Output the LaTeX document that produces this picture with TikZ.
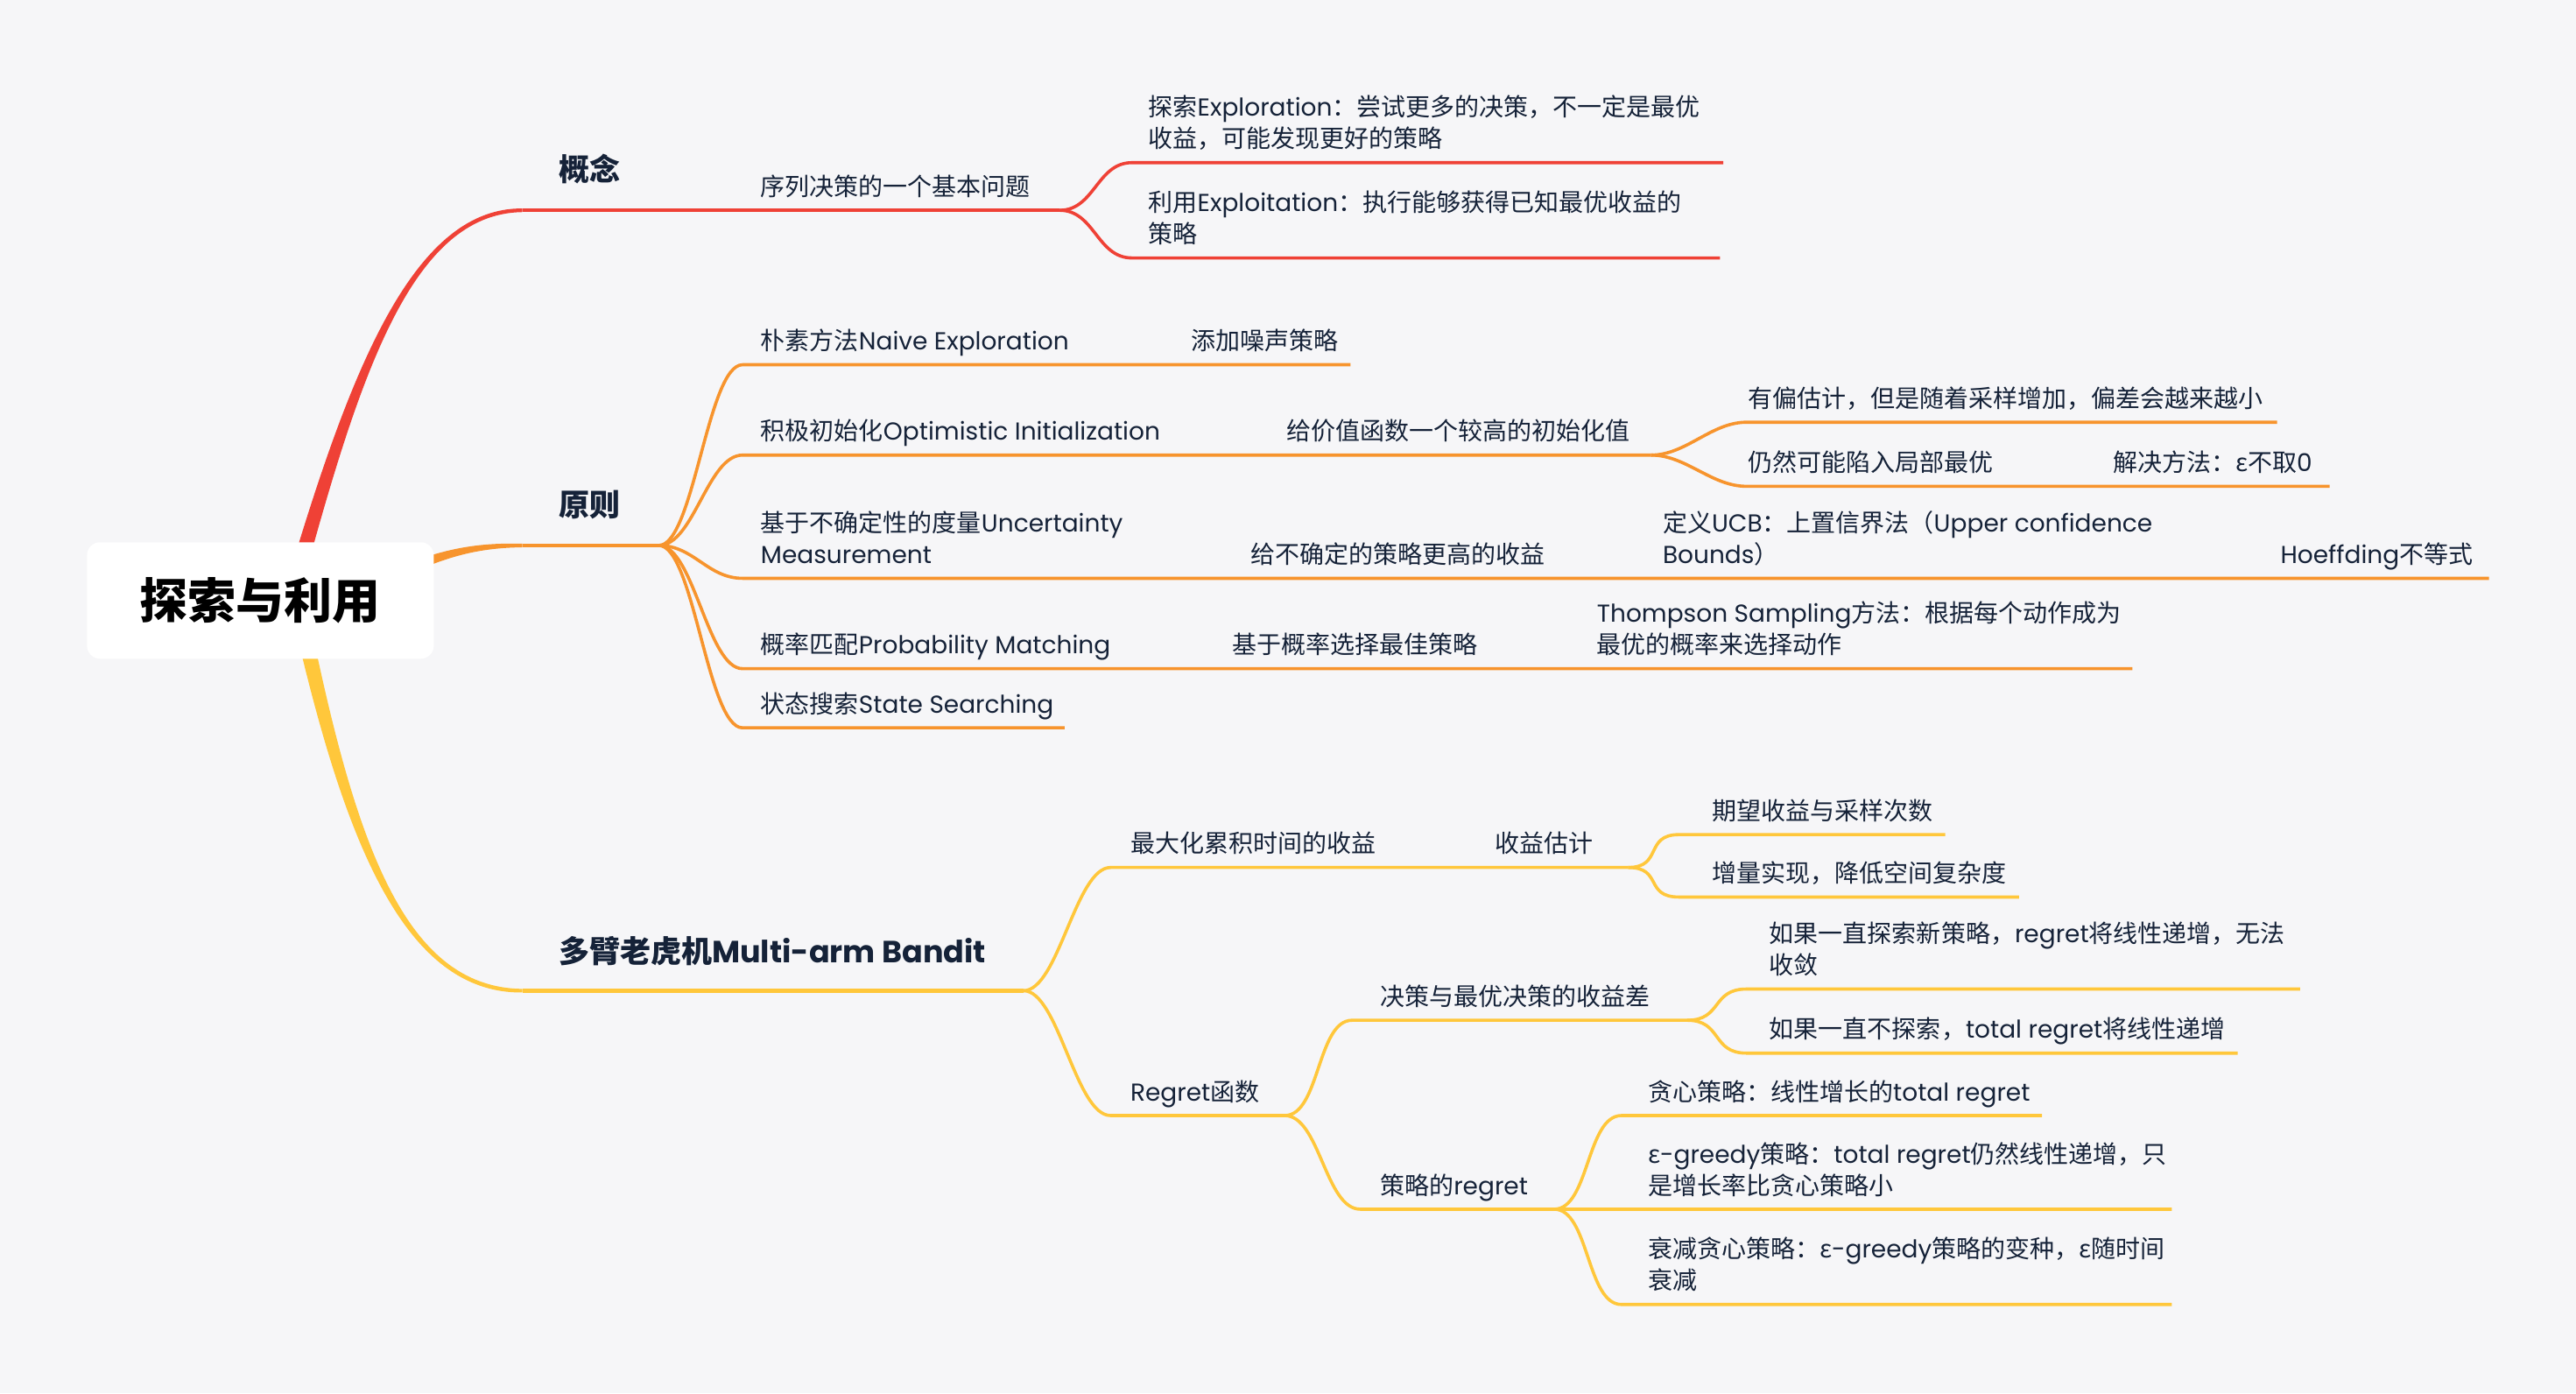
\documentclass[tikz,border=0pt]{standalone}
\usepackage{fontspec}
\setmainfont{Poppins}
\newfontfamily\cjk{Noto Sans CJK SC}
\usetikzlibrary{calc}

% Chinese characters switch to the CJK font by themselves
\XeTeXinterchartokenstate=1
\newXeTeXintercharclass\hanzi
\newcount\hzc
\def\hzrange#1#2{\hzc=#1 \loop\XeTeXcharclass\hzc=\hanzi\advance\hzc by 1 \ifnum\hzc<#2 \repeat}
\hzrange{"3000}{"3040}
\hzrange{"4E00}{"A000}
\hzrange{"FF00}{"FFF0}
\XeTeXcharclass"03B5=\hanzi
\XeTeXinterchartoks 0 \hanzi = {\begingroup\cjk}
\XeTeXinterchartoks 4095 \hanzi = {\begingroup\cjk}
\XeTeXinterchartoks \hanzi 0 = {\endgroup}
\XeTeXinterchartoks \hanzi 4095 = {\endgroup}

\definecolor{ink}{HTML}{152238}
\definecolor{paper}{HTML}{F6F6F8}
\definecolor{redb}{HTML}{EF4136}
\definecolor{orab}{HTML}{F7942D}
\definecolor{yelb}{HTML}{FFC73B}

\begin{document}
\begin{tikzpicture}[x=1.876pt,y=-1.876pt,
    txt/.style={anchor=base west,inner sep=0pt,align=left,text=ink,font=\fontsize{28}{36}\selectfont},
    head/.style={anchor=base west,inner sep=0pt,text=ink,font=\bfseries\fontsize{35}{42}\selectfont},
    main/.style={line width=4.2pt},
    sub/.style={line width=3.6pt},
    fork/.style={out=0,in=180,out distance=40pt,in distance=40pt}]
  \fill[paper] (0,0) rectangle (1568,848);
  \useasboundingbox (0,0) rectangle (1568,848);

  % end points of the three main branches
  \coordinate (gn-s) at (318,128);
  \coordinate (yz-s) at (318,332);
  \coordinate (mb-s) at (318,603);

  % tapered main branches
  \fill[redb] (173,360) .. controls (211.6,230) and (250,126.2) .. ($(gn-s)+(0,-1.1)$)
     -- ($(gn-s)+(0,1.1)$) .. controls (250,129.8) and (218.4,230) .. (183,360) -- cycle;
  \fill[orab] (235,348) .. controls (270,333.4) and (290,330.4) .. ($(yz-s)+(0,-1.1)$)
     -- ($(yz-s)+(0,1.1)$) .. controls (290,333.6) and (270,338.6) .. (235,356) -- cycle;
  \fill[yelb] (177,370) .. controls (208.6,510) and (245,604.8) .. ($(mb-s)+(0,1.1)$)
     -- ($(mb-s)+(0,-1.1)$) .. controls (245,601.2) and (215.4,510) .. (187,370) -- cycle;

  \node[fill=white,rounded corners=15pt,minimum width=396pt,minimum height=133pt,
        text=black,font=\bfseries\fontsize{55}{60}\selectfont] (root) at (158.5,365.5) {探索与利用};

  % 概念
  \coordinate (yl-e) at (645,128);
  \coordinate (ts-s) at (689,99);  \coordinate (ts-e) at (1049,99);
  \coordinate (ly-s) at (689,157); \coordinate (ly-e) at (1047,157);
  \draw[redb,main] (gn-s) -- (yl-e);
  \draw[redb,sub] (yl-e) to[fork] (ts-s) -- (ts-e);
  \draw[redb,sub] (yl-e) to[fork] (ly-s) -- (ly-e);
  \node[head] (gn) at (340,110) {概念};
  \node[txt] (yl) at (463,119) {序列决策的一个基本问题};
  \node[txt] (ts) at (699,90) {探索Exploration：尝试更多的决策，不一定是最优\\收益，可能发现更好的策略};
  \node[txt] (ly) at (699,148) {利用Exploitation：执行能够获得已知最优收益的\\策略};

  % 原则
  \coordinate (yz-e) at (401,332);
  \coordinate (nv-s) at (452,222); \coordinate (nv-e) at (822,222);
  \coordinate (op-s) at (452,277); \coordinate (op-e) at (1005,277);
  \coordinate (ob-s) at (1063,257); \coordinate (ob-e) at (1386,257);
  \coordinate (oc-s) at (1063,296); \coordinate (oc-e) at (1418,296);
  \coordinate (un-s) at (452,352); \coordinate (un-e) at (1515,352);
  \coordinate (pm-s) at (452,407); \coordinate (pm-e) at (1298,407);
  \coordinate (ss-s) at (452,443); \coordinate (ss-e) at (648,443);
  \draw[orab,main] (yz-s) -- (yz-e);
  \foreach \k in {nv,op,un,pm,ss}
    \draw[orab,sub] (yz-e) to[fork] (\k-s) -- (\k-e);
  \draw[orab,sub] (op-e) to[fork] (ob-s) -- (ob-e);
  \draw[orab,sub] (op-e) to[fork] (oc-s) -- (oc-e);
  \node[head] (yz) at (340,314) {原则};
  \node[txt] (nv) at (463,213) {朴素方法Naive Exploration};
  \node[txt] (nv2) at (725,213) {添加噪声策略};
  \node[txt] (op) at (463,268) {积极初始化Optimistic Initialization};
  \node[txt] (op2) at (783,268) {给价值函数一个较高的初始化值};
  \node[txt] (ob) at (1064,248) {有偏估计，但是随着采样增加，偏差会越来越小};
  \node[txt] (oc) at (1064,287) {仍然可能陷入局部最优};
  \node[txt] (oc2) at (1286,287) {解决方法：ε不取0};
  \node[txt] (un) at (463,343) {基于不确定性的度量Uncertainty\\Measurement};
  \node[txt] (un2) at (761,343) {给不确定的策略更高的收益};
  \node[txt] (un3) at (1012,343) {定义UCB：上置信界法（Upper confidence\\Bounds）};
  \node[txt] (un4) at (1388,343) {Hoeffding不等式};
  \node[txt] (pm) at (463,398) {概率匹配Probability Matching};
  \node[txt] (pm2) at (750,398) {基于概率选择最佳策略};
  \node[txt] (pm3) at (972,398) {Thompson Sampling方法：根据每个动作成为\\最优的概率来选择动作};
  \node[txt] (ss) at (463,434) {状态搜索State Searching};

  % 多臂老虎机
  \coordinate (mb-e) at (623,603);
  \coordinate (mx-s) at (676,528); \coordinate (mx-e) at (991,528);
  \coordinate (ma-s) at (1022,508); \coordinate (ma-e) at (1184,508);
  \coordinate (mc-s) at (1022,546); \coordinate (mc-e) at (1229,546);
  \coordinate (rg-s) at (676,679); \coordinate (rg-e) at (782,679);
  \coordinate (dg-s) at (823,621); \coordinate (dg-e) at (1027,621);
  \coordinate (da-s) at (1063,602); \coordinate (da-e) at (1400,602);
  \coordinate (db-s) at (1063,641); \coordinate (db-e) at (1362,641);
  \coordinate (sr-s) at (828,736); \coordinate (sr-e) at (946,736);
  \coordinate (sa-s) at (987,679); \coordinate (sa-e) at (1243,679);
  \coordinate (sb-e) at (1322,736);
  \coordinate (sc-s) at (987,794); \coordinate (sc-e) at (1322,794);
  \draw[yelb,main] (mb-s) -- (mb-e);
  \draw[yelb,sub] (mb-e) to[fork] (mx-s) -- (mx-e);
  \draw[yelb,sub] (mb-e) to[fork] (rg-s) -- (rg-e);
  \draw[yelb,sub] (mx-e) to[fork] (ma-s) -- (ma-e);
  \draw[yelb,sub] (mx-e) to[fork] (mc-s) -- (mc-e);
  \draw[yelb,sub] (rg-e) to[fork] (dg-s) -- (dg-e);
  \draw[yelb,sub] (rg-e) to[fork] (sr-s) -- (sr-e) -- (sb-e);
  \draw[yelb,sub] (dg-e) to[fork] (da-s) -- (da-e);
  \draw[yelb,sub] (dg-e) to[fork] (db-s) -- (db-e);
  \draw[yelb,sub] (sr-e) to[fork] (sa-s) -- (sa-e);
  \draw[yelb,sub] (sr-e) to[fork] (sc-s) -- (sc-e);
  \node[head] (mb) at (340,586) {多臂老虎机Multi-arm Bandit};
  \node[txt] (mx) at (688,519) {最大化累积时间的收益};
  \node[txt] (mx2) at (910,519) {收益估计};
  \node[txt] (ma) at (1042,499) {期望收益与采样次数};
  \node[txt] (mc) at (1042,537) {增量实现，降低空间复杂度};
  \node[txt] (rg) at (688,670) {Regret函数};
  \node[txt] (dg) at (840,612) {决策与最优决策的收益差};
  \node[txt] (da) at (1077,593) {如果一直探索新策略，regret将线性递增，无法\\收敛};
  \node[txt] (db) at (1077,632) {如果一直不探索，total regret将线性递增};
  \node[txt] (sr) at (840,727) {策略的regret};
  \node[txt] (sa) at (1003,670) {贪心策略：线性增长的total regret};
  \node[txt] (sb) at (1003,727) {ε-greedy策略：total regret仍然线性递增，只\\是增长率比贪心策略小};
  \node[txt] (sc) at (1003,785) {衰减贪心策略：ε-greedy策略的变种，ε随时间\\衰减};
\end{tikzpicture}
\end{document}
